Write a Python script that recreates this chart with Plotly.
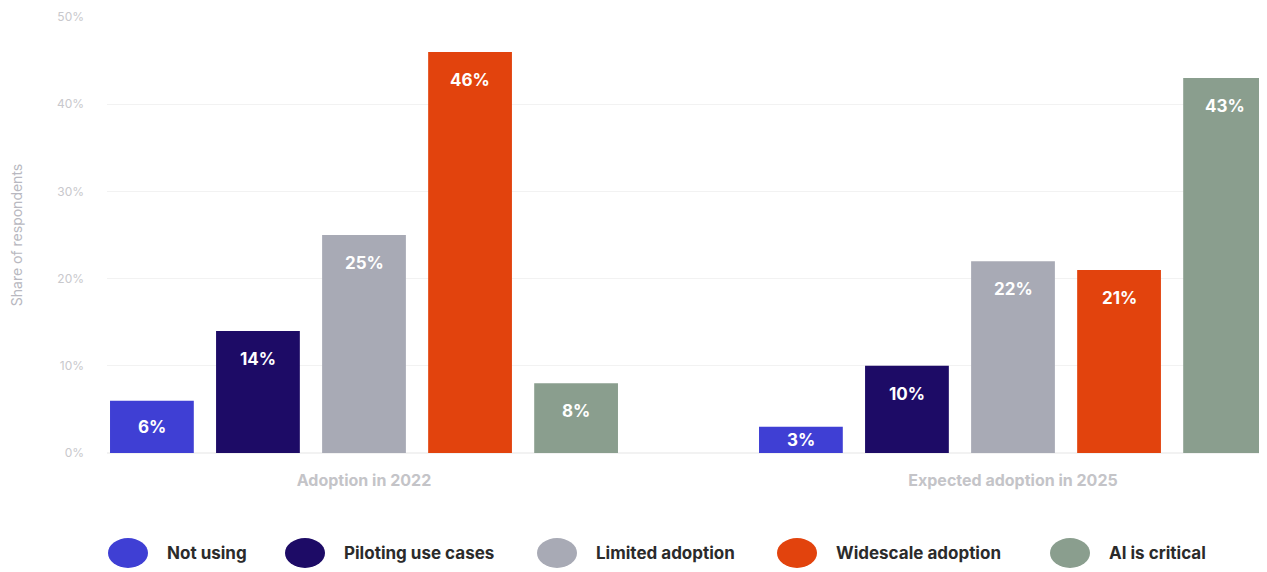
import plotly.graph_objects as go

categories = ["Adoption in 2022", "Expected adoption in 2025"]
series_names = ["Not using", "Piloting use cases", "Limited adoption", "Widescale adoption", "AI is critical"]
values = {
    "Not using": [6, 3],
    "Piloting use cases": [14, 10],
    "Limited adoption": [25, 22],
    "Widescale adoption": [46, 21],
    "AI is critical": [8, 43],
}
colors = ["#3f3fd4", "#1d0b66", "#a8aab5", "#e2430d", "#8a9e8e"]
y_ticks = [0, 10, 20, 30, 40, 50]

FONT = "Inter"
# page body has an 8px margin; compensate so the plot lands where the reference has it
OFF = 8
W, H = 1267, 572
ML, MT = 107 - OFF, 17 - OFF
PLOT_BOTTOM = 453 - OFF
MB = H - PLOT_BOTTOM
MR = OFF
PLOT_H = PLOT_BOTTOM - MT
PLOT_W = W - ML - MR
PX_PER_UNIT = PLOT_H / 50

fig = go.Figure()
n = len(series_names)
bargap = 0.183
groupgap = 0.21
slot = (1 - bargap) / n

for i, name in enumerate(series_names):
    fig.add_trace(go.Bar(
        x=categories, y=values[name], name=name,
        marker=dict(color=colors[i], line=dict(width=0)),
        showlegend=False,
    ))
    for j, v in enumerate(values[name]):
        fig.add_annotation(
            x=j + (i - (n - 1) / 2) * slot, y=v, xref="x", yref="y",
            text=f"<b>{v}%</b>", showarrow=False,
            yshift=-min(28, v * PX_PER_UNIT / 2),
            font=dict(family=FONT, size=17, color="white", weight=800),
        )

# legend drawn as layout shapes/annotations
legend_x = [108, 285, 537, 777, 1050]
for i, name in enumerate(series_names):
    fig.add_shape(type="circle", xref="paper", yref="paper",
                  xsizemode="pixel", ysizemode="pixel",
                  xanchor=(legend_x[i] + 20 - 107) / PLOT_W, yanchor=-100 / PLOT_H,
                  x0=-20, x1=20, y0=-15, y1=15,
                  fillcolor=colors[i], line=dict(width=0))
    fig.add_annotation(xref="paper", yref="paper",
                       x=(legend_x[i] + 57 - 107) / PLOT_W, y=-100 / PLOT_H,
                       xanchor="left", yanchor="middle", showarrow=False,
                       text=f"<b>{name}</b>",
                       font=dict(family=FONT, size=17, color="#2b2b2b", weight=800))

fig.update_layout(
    width=W, height=H,
    margin=dict(l=ML, r=MR, t=MT, b=MB),
    paper_bgcolor="white", plot_bgcolor="white",
    barmode="group", bargap=bargap, bargroupgap=groupgap,
    font=dict(family=FONT),
    xaxis=dict(
        range=[-(364 - 107) / 649, 1 + (1267 - 1013) / 649],
        showgrid=False, zeroline=False, showline=False, automargin=False,
        tickfont=dict(family=FONT, size=16, color="#c4c4c8", weight="bold"),
        ticklabelstandoff=16,
    ),
    yaxis=dict(
        range=[0, 50], tickvals=y_ticks, ticktext=[f"{t}%" for t in y_ticks],
        showgrid=True, gridcolor="#f2f2f2", gridwidth=1, automargin=False,
        zeroline=True, zerolinecolor="#f2f2f2",
        tickfont=dict(family=FONT, size=12, color="#c8c8cc"),
        ticklabelstandoff=22,
        title=dict(text="Share of respondents", standoff=40,
                   font=dict(family=FONT, size=14, color="#b8b8c0")),
    ),
)

fig.write_html("out.html")
